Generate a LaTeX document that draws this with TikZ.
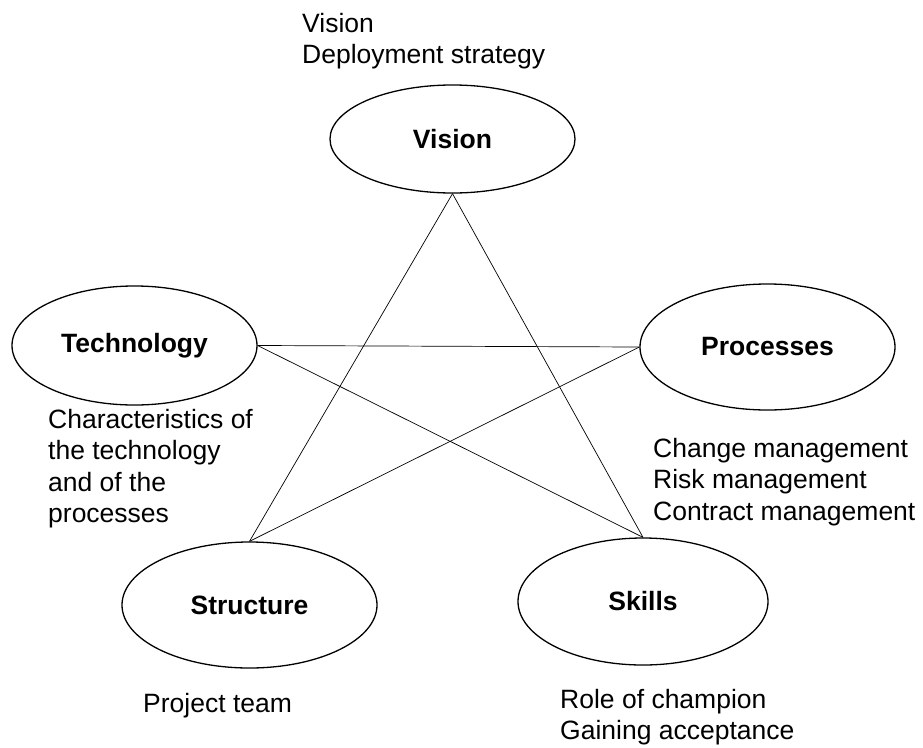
\documentclass[tikz,border=0pt]{standalone}
\usepackage{fontspec}
\setmainfont{Liberation Sans}
\usetikzlibrary{shapes.geometric}
\begin{document}
\begin{tikzpicture}[x=1pt,y=-1pt,
  oval/.style={draw,ellipse,inner sep=0pt,line width=1.3pt,font=\fontsize{26.5}{31.5}\selectfont\bfseries},
  note/.style={anchor=base west,inner sep=0pt,align=left,font=\fontsize{26.5}{31.5}\selectfont},
  link/.style={draw,line width=0.7pt}]
\useasboundingbox (0,0) rectangle (923,747);
\node[oval,minimum width=245pt,minimum height=108pt] (vision) at (452.5,139) {Vision};
\node[oval,minimum width=245pt,minimum height=119pt] (tech) at (134.5,345.5) {Technology};
\node[oval,minimum width=255pt,minimum height=126pt] (proc) at (767.5,347) {Processes};
\node[oval,minimum width=255pt,minimum height=126pt] (struct) at (249.5,605) {Structure};
\node[oval,minimum width=250pt,minimum height=127pt] (skills) at (643,601.5) {Skills};
\draw[link] (vision.south) -- (struct.north);
\draw[link] (vision.south) -- (skills.north);
\draw[link] (tech.east) -- (proc.west);
\draw[link] (tech.east) -- (skills.north);
\draw[link] (proc.west) -- (struct.north);
% anchor is the baseline of the last line
\node[note] (nvision) at (302,63.5) {Vision\\Deployment strategy};
\node[note] (ntech) at (48,522.5) {Characteristics of\\the technology\\and of the\\processes};
\node[note] (nproc) at (653,520) {Change management\\Risk management\\Contract management};
\node[note] (nstruct) at (143,712) {Project team};
\node[note] (nskills) at (560,739.5) {Role of champion\\Gaining acceptance};
\end{tikzpicture}
\end{document}
